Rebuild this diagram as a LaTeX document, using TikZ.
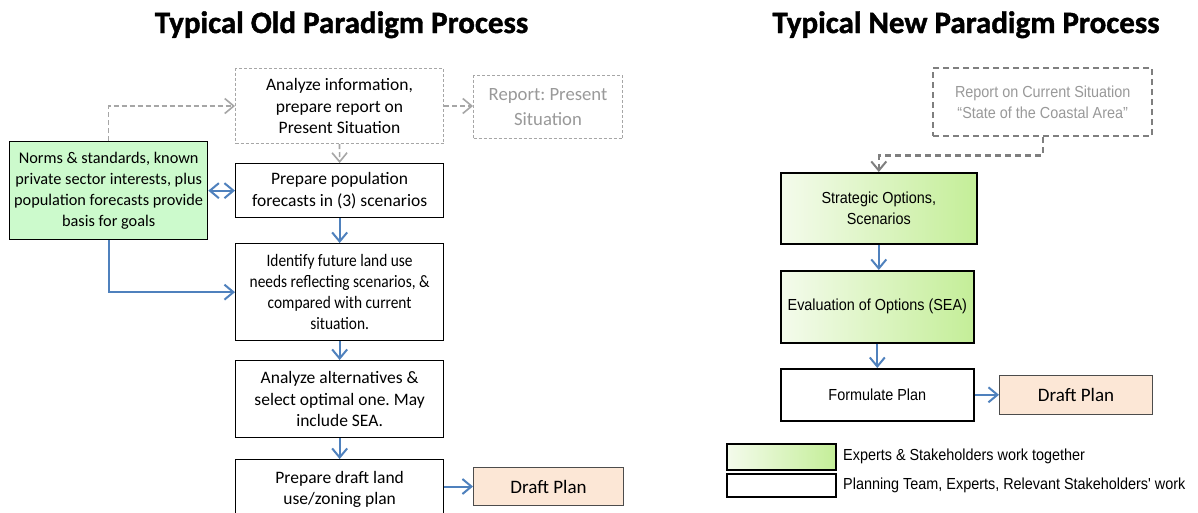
\documentclass[tikz,border=0pt]{standalone}
\usepackage{fontspec}
\setmainfont{Carlito}
\newfontfamily\calcond[FakeStretch=0.88]{Carlito}
\newfontfamily\narrow[FakeStretch=0.9]{Liberation Sans}
\newfontfamily\titlefont[FakeBold=1.3]{Carlito Bold}
\usetikzlibrary{arrows.meta}
\frenchspacing
\definecolor{arrowblue}{HTML}{4F81BD}
\definecolor{dashgray}{HTML}{A6A6A6}
\definecolor{dashdark}{HTML}{7F7F7F}
\definecolor{normsgreen}{HTML}{CCFACC}
\definecolor{greenL}{HTML}{F4FBEC}
\definecolor{greenR}{HTML}{C4EE98}
\definecolor{peach}{HTML}{FCE7D6}
\definecolor{graytext}{HTML}{999999}
\tikzset{
  box/.style={draw=black, line width=1.3pt, align=center, inner sep=0pt, anchor=north west,
    font=\fontsize{17.5}{21.5}\selectfont},
  gbox/.style={draw=dashgray, line width=1pt, dash pattern=on 3pt off 2pt, align=center,
    inner sep=0pt, anchor=north west},
  rbox/.style={draw=black, line width=1.6pt, align=center, inner sep=0pt, anchor=north west,
    font=\narrow\fontsize{16}{21}\selectfont},
  grad/.style={left color=greenL, right color=greenR},
  barrow/.style={draw=arrowblue, line width=2pt, -{Straight Barb[length=9pt,width=15pt,line width=2pt]}},
  bdarrow/.style={draw=arrowblue, line width=2pt, {Straight Barb[length=9pt,width=15pt,line width=2pt]}-{Straight Barb[length=9pt,width=15pt,line width=2pt]}},
  garrow/.style={draw=dashgray, line width=1.6pt, dash pattern=on 5pt off 3pt, -{Straight Barb[length=9pt,width=15pt,line width=1.6pt]}},
  darrow/.style={draw=dashdark, line width=2.4pt, dash pattern=on 6pt off 4pt, -{Straight Barb[length=9pt,width=15pt,line width=2pt]}},
  title/.style={font=\titlefont\fontsize{31}{36}\selectfont, anchor=base, inner sep=0pt},
}
\begin{document}
\begin{tikzpicture}[x=1pt,y=-1pt]
\useasboundingbox (0,0) rectangle (1198,512);
\clip (0,0) rectangle (1198,512);
\fill[white] (0,0) rectangle (1198,512);

% titles
\node[title] (t1) at (341.5,33) {Typical Old Paradigm Process};
\node[title] (t2) at (966,33) {Typical New Paradigm Process};

% ---- old paradigm ----
\node[gbox, minimum width=208pt, minimum height=75pt, font=\fontsize{17.5}{21.5}\selectfont] (analyze) at (235,68)
  {Analyze information,\\prepare report on\\Present Situation};
\node[gbox, minimum width=149pt, minimum height=63pt, text=graytext, font=\fontsize{18.7}{25}\selectfont] (report) at (473,75)
  {Report: Present\\Situation};
\node[box, fill=normsgreen, minimum width=198pt, minimum height=98pt, font=\fontsize{16.3}{21}\selectfont] (norms) at (9,141)
  {Norms \& standards, known\\private sector interests, plus\\population forecasts provide\\basis for goals};
\node[box, minimum width=208pt, minimum height=54pt] (prepare) at (235,163)
  {Prepare population\\forecasts in (3) scenarios};
\node[box, minimum width=208pt, minimum height=97pt, font=\calcond\fontsize{17.5}{21}\selectfont] (identify) at (235,243)
  {Identify future land use\\needs reflecting scenarios, \&\\compared with current\\situation.};
\node[box, minimum width=208pt, minimum height=77pt] (alts) at (235,360)
  {Analyze alternatives \&\\select optimal one. May\\include SEA.};
\node[box, minimum width=208pt, minimum height=60pt] (draft) at (235,459)
  {Prepare draft land\\use/zoning plan};
\node[box, draw=black!70, line width=1pt, fill=peach, minimum width=150pt, minimum height=38pt, font=\fontsize{19}{22}\selectfont] (draftplan) at (473,467)
  {Draft Plan};

\draw[garrow] (analyze.east) -- (analyze.east -| report.west);
\draw[garrow] (norms.north) |- (analyze.west);
\draw[garrow] (analyze.south) -- (prepare.north);
\draw[bdarrow] (norms.east) -- (norms.east -| prepare.west);
\draw[barrow] (norms.south) |- (identify.west);
\draw[barrow] (prepare.south) -- (identify.north);
\draw[barrow] (identify.south) -- (alts.north);
\draw[barrow] (alts.south) -- (draft.north);
\draw[barrow] (draftplan.west -| draft.east) -- (draftplan.west);

% ---- new paradigm ----
\node[rbox, draw=dashdark, line width=2.4pt, dash pattern=on 6pt off 4pt, minimum width=219pt, minimum height=68pt, text=graytext] (reportR) at (932,67)
  {Report on Current Situation\\“State of the Coastal Area”};
\node[rbox, grad, minimum width=196pt, minimum height=71pt] (strategic) at (780,172)
  {Strategic Options,\\Scenarios};
\node[rbox, grad, minimum width=193pt, minimum height=72pt] (eval) at (780,270)
  {Evaluation of Options (SEA)};
\node[rbox, minimum width=193pt, minimum height=52pt] (formulate) at (780,368)
  {Formulate Plan};
\node[box, draw=black!70, line width=1pt, fill=peach, minimum width=153pt, minimum height=39pt, font=\fontsize{19}{22}\selectfont] (draftR) at (999,375)
  {Draft Plan};

\draw[darrow] (reportR.south) -- ++(0,18) -| (strategic.north);
\draw[barrow] (strategic.south) -- (strategic.south |- eval.north);
\draw[barrow] (eval.south) -- (eval.south |- formulate.north);
\draw[barrow] (formulate.east) -- (formulate.east -| draftR.west);

% legend
\node[rbox, grad, minimum width=109pt, minimum height=26pt] (leg1) at (726,443) {};
\node[rbox, minimum width=109pt, minimum height=23pt] (leg2) at (726,473) {};
\node[anchor=west, inner sep=0pt, font=\narrow\fontsize{16}{19}\selectfont] (leg1t) at (843,456)
  {Experts \& Stakeholders work together};
\node[anchor=west, inner sep=0pt, font=\narrow\fontsize{16}{19}\selectfont] (leg2t) at (843,485)
  {Planning Team, Experts, Relevant Stakeholders' work};
\end{tikzpicture}
\end{document}
